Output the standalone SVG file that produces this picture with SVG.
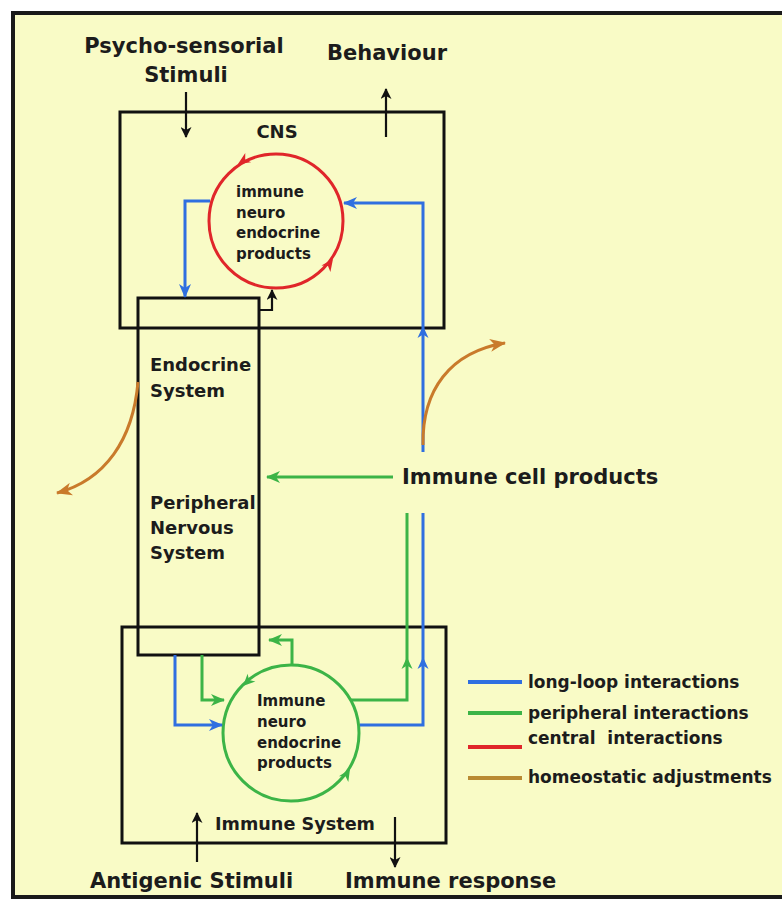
<svg xmlns="http://www.w3.org/2000/svg" xmlns:xlink="http://www.w3.org/1999/xlink" width="782" height="900" viewBox="0 0 782 900">
<defs>
<style>
text{font-family:"DejaVu Sans","Liberation Sans",sans-serif;font-weight:bold;fill:#1c1c1c}
.box{fill:none;stroke:#111;stroke-width:3}
.bl{fill:none;stroke:#2f6fe0;stroke-width:3}
.gr{fill:none;stroke:#3cb447;stroke-width:3}
.rd{fill:none;stroke:#e0262a;stroke-width:3}
.or{fill:none;stroke:#c97a2b;stroke-width:3}
.bk{fill:none;stroke:#111;stroke-width:2.2}
.lg{stroke-width:4}
.big{font-size:21px}
.mid{font-size:18px}
.sm{font-size:15px}
.leg{font-size:17px;white-space:pre}
</style>
<marker id="mB" markerWidth="14" markerHeight="12" refX="13" refY="6" orient="auto" markerUnits="userSpaceOnUse"><path d="M0,0 L14,6 L0,12 L4,6 Z" fill="#2f6fe0"/></marker>
<marker id="mG" markerWidth="14" markerHeight="12" refX="13" refY="6" orient="auto" markerUnits="userSpaceOnUse"><path d="M0,0 L14,6 L0,12 L4,6 Z" fill="#3cb447"/></marker>
<marker id="mO" markerWidth="16" markerHeight="13" refX="15" refY="6.5" orient="auto" markerUnits="userSpaceOnUse"><path d="M0,0 L16,6.5 L0,13 L4.5,6.5 Z" fill="#c97a2b"/></marker>
<marker id="mK" markerWidth="11" markerHeight="11" refX="10" refY="5.5" orient="auto" markerUnits="userSpaceOnUse"><path d="M0,0 L11,5.5 L0,11 L3,5.5 Z" fill="#111"/></marker>
<path id="ah" d="M0,0 L-12,-5.5 L-8.5,0 L-12,5.5 Z"/>
</defs>
<rect x="0" y="0" width="782" height="900" fill="#ffffff"/>
<rect x="13" y="13" width="800" height="884" fill="#f9fbc6" stroke="#1a1a1a" stroke-width="4"/>

<g id="cns">
<rect class="box" x="120" y="112" width="324" height="216"/>
<text class="mid" x="277" y="138" text-anchor="middle">CNS</text>
</g>

<g id="cns-products">
<circle class="rd" cx="276" cy="221" r="67"/>
<use xlink:href="#ah" href="#ah" fill="#e0262a" transform="translate(238,164) rotate(148)"/>
<use xlink:href="#ah" href="#ah" fill="#e0262a" transform="translate(333,259) rotate(-54)"/>
<text class="sm" x="236" y="197">immune</text>
<text class="sm" x="236" y="218">neuro</text>
<text class="sm" x="236" y="238">endocrine</text>
<text class="sm" x="236" y="259">products</text>
</g>

<g id="endocrine-pns">
<rect class="box" x="138" y="298" width="121" height="357"/>
<text class="mid" x="150" y="371">Endocrine</text>
<text class="mid" x="150" y="397">System</text>
<text class="mid" x="150" y="509">Peripheral</text>
<text class="mid" x="150" y="534">Nervous</text>
<text class="mid" x="150" y="559">System</text>
</g>

<g id="immune-system">
<rect class="box" x="122" y="627" width="324" height="216"/>
<text class="mid" x="215" y="830" textLength="160" lengthAdjust="spacingAndGlyphs">Immune System</text>
</g>

<g id="immune-products">
<circle class="gr" cx="291" cy="733" r="68"/>
<use xlink:href="#ah" href="#ah" fill="#3cb447" transform="translate(243,686) rotate(135)"/>
<use xlink:href="#ah" href="#ah" fill="#3cb447" transform="translate(350,769) rotate(-58)"/>
<text class="sm" x="257" y="706">Immune</text>
<text class="sm" x="257" y="727">neuro</text>
<text class="sm" x="257" y="748">endocrine</text>
<text class="sm" x="257" y="768">products</text>
</g>

<g id="labels">
<text class="big" x="184" y="53" text-anchor="middle">Psycho-sensorial</text>
<text class="big" x="186" y="82" text-anchor="middle">Stimuli</text>
<text class="big" x="327" y="60">Behaviour</text>
<text class="big" x="402" y="484">Immune cell products</text>
<text class="big" x="90" y="888">Antigenic Stimuli</text>
<text class="big" x="345" y="888">Immune response</text>
</g>

<g id="connectors">
<path class="bk" d="M186,92 V137" marker-end="url(#mK)"/>
<path class="bk" d="M386,137 V89" marker-end="url(#mK)"/>
<path class="bk" d="M259,310 H272 V290" marker-end="url(#mK)"/>
<path class="bk" d="M197,862 V813" marker-end="url(#mK)"/>
<path class="bk" d="M395,817 V867" marker-end="url(#mK)"/>

<path class="bl" d="M210,201 H185 V297" marker-end="url(#mB)"/>
<path class="bl" d="M423,452 V203 H344" marker-end="url(#mB)"/>
<use xlink:href="#ah" href="#ah" fill="#2f6fe0" transform="translate(423,326) rotate(-90)"/>

<path class="gr" d="M393,477 H267" marker-end="url(#mG)"/>

<path class="gr" d="M351,700 H407 V513"/>
<use xlink:href="#ah" href="#ah" fill="#3cb447" transform="translate(407,657) rotate(-90)"/>
<path class="bl" d="M360,725 H423 V513"/>
<use xlink:href="#ah" href="#ah" fill="#2f6fe0" transform="translate(423,657) rotate(-90)"/>

<path class="gr" d="M202,655 V700 H224" marker-end="url(#mG)"/>
<path class="bl" d="M175,655 V725 H222" marker-end="url(#mB)"/>
<path class="gr" d="M292,665 V640 H269" marker-end="url(#mG)"/>

<path class="or" d="M423,445 C422,390 450,352 505,343" marker-end="url(#mO)"/>
<path class="or" d="M138,382 C133,440 105,480 57,493" marker-end="url(#mO)"/>
</g>

<g id="legend">
<line class="bl lg" x1="468" y1="682" x2="522" y2="682"/>
<line class="gr lg" x1="468" y1="713" x2="522" y2="713"/>
<line class="rd lg" x1="468" y1="747" x2="522" y2="747"/>
<line class="or lg" x1="468" y1="778" x2="522" y2="778" style="stroke:#b98a32"/>
<text class="leg" x="528" y="688">long-loop interactions</text>
<text class="leg" x="528" y="719">peripheral interactions</text>
<text class="leg" x="528" y="744" xml:space="preserve">central  interactions</text>
<text class="leg" x="528" y="783">homeostatic adjustments</text>
</g>
</svg>
